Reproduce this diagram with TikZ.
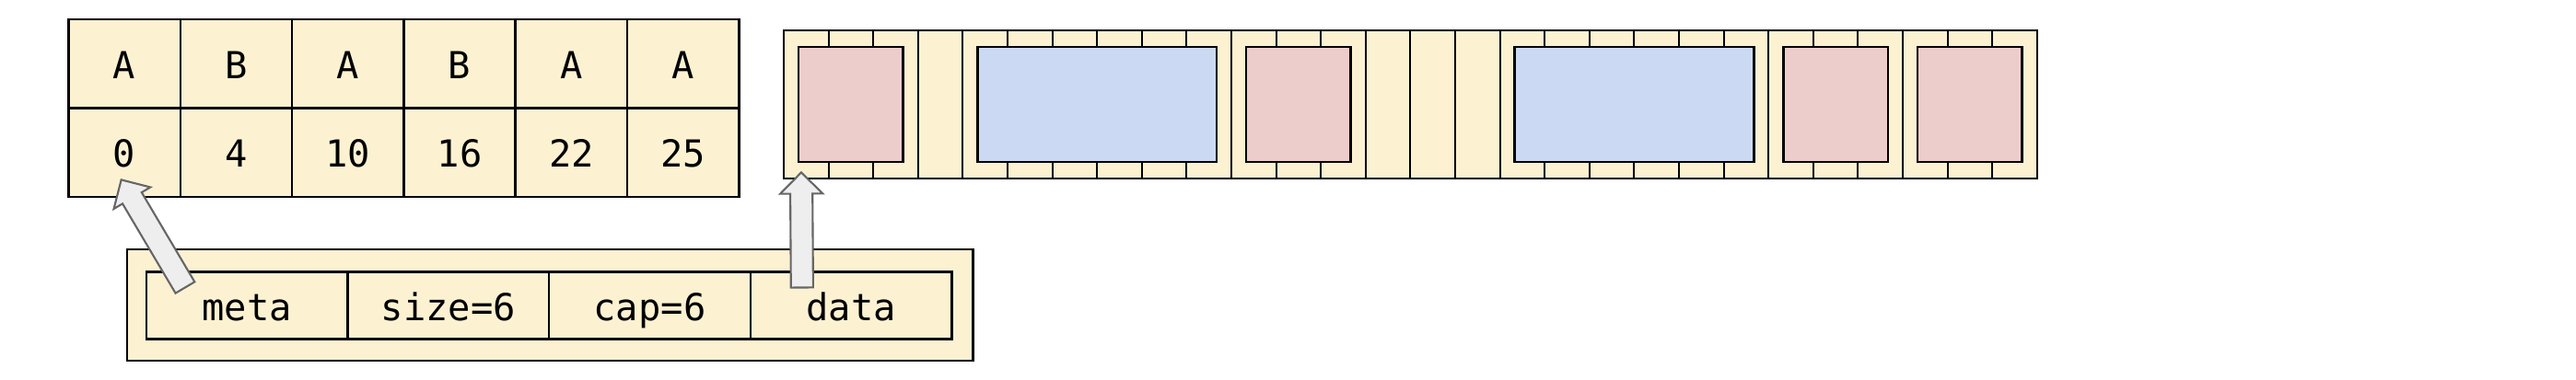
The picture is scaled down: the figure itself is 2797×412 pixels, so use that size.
\documentclass[tikz,border=0pt]{standalone}
\usepackage{fontspec}
\setmonofont{DejaVu Sans Mono}
\usetikzlibrary{positioning, shapes.arrows}
\definecolor{cellYellow}{HTML}{FCF2D2}
\definecolor{elemRed}{HTML}{EDCDCC}
\definecolor{elemBlue}{HTML}{CBDAF2}
\definecolor{arrowGray}{HTML}{EEEEEE}
\definecolor{arrowLine}{HTML}{666666}
\tikzstyle{normalCell} = [shape=rectangle, draw=black, text=black, line width=0.7pt,
	fill=cellYellow, inner sep=0pt, outer sep=0pt, text height=0.4cm, text depth=0.08cm,
	font=\ttfamily\fontsize{11.5}{13}\selectfont]
\tikzstyle{TableCell} = [normalCell, minimum width=1.213cm, minimum height=0.965cm]
\tikzstyle{FieldCell} = [normalCell, minimum width=2.185cm, minimum height=0.73cm]
\tikzstyle{ByteCell} = [normalCell, line width=0.55pt, minimum width=0.486cm, minimum height=1.61cm]
\tikzstyle{ElemBox} = [shape=rectangle, draw=black, line width=0.8pt, minimum height=1.25cm]
\tikzstyle{blockArrow} = [single arrow, draw=arrowLine, fill=arrowGray, line width=0.6pt,
	inner xsep=0pt, inner ysep=0.11cm, single arrow head extend=0.11cm, outer sep=0pt,
	allow upside down]

\begin{document}
\begin{tikzpicture}[x=0.01cm, y=-0.01cm, node distance=0cm]
	\useasboundingbox (0,0) rectangle (2797,412);
	% tags and offsets
	\foreach \t [count=\i] in {A,B,A,B,A,A}
		\node (Tag\i) at ({74.5+121.3*(\i-0.5)},69.25) [TableCell] {\t};
	\foreach \o [count=\i] in {0,4,10,16,22,25}
		\node (Off\i) [TableCell, below=of Tag\i] {\o};

	% header
	\node (Header) at (597,331.5) [normalCell, minimum width=9.18cm, minimum height=1.21cm] {};
	\node (Meta) at (268.25,332) [FieldCell] {meta};
	\node (Size) [FieldCell, right=of Meta] {size=6};
	\node (Cap) [FieldCell, right=of Size] {cap=6};
	\node (Data) [FieldCell, right=of Cap] {data};

	% data bytes
	\foreach \i in {0,...,27}
		\node (Byte\i) at ({851+48.6*(\i+0.5)},113.5) [ByteCell] {};
	\foreach \s/\e/\c [count=\k] in {0/2/elemRed, 4/9/elemBlue, 10/12/elemRed,
			16/21/elemBlue, 22/24/elemRed, 25/27/elemRed}
		\path (Byte\s.west) -- (Byte\e.east)
			node (Elem\k) [midway, ElemBox, fill=\c, minimum width={(\e-\s+1)*0.486cm-0.32cm}] {};

	% pointers
	\coordinate (MetaTail) at ([xshift=0.42cm, yshift=-0.17cm]Meta.north west);
	\coordinate (MetaTip) at ([xshift=0.57cm, yshift=0.19cm]Off1.south west);
	\coordinate (DataTail) at ([xshift=0.56cm, yshift=-0.17cm]Data.north west);
	\coordinate (DataTip) at ([xshift=0.19cm, yshift=0.07cm]Byte0.south west);
	\path (MetaTail) -- (MetaTip) node [blockArrow, pos=0, sloped,
		anchor=tail, minimum height=1.36cm] {};
	\path (DataTail) -- (DataTip) node [blockArrow, pos=0, sloped,
		anchor=tail, minimum height=1.25cm] {};
\end{tikzpicture}
\end{document}
